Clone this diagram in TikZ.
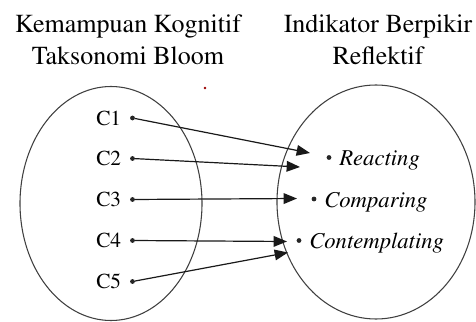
\documentclass[tikz,border=0pt]{standalone}
\usepackage[T1]{fontenc}
\renewcommand{\rmdefault}{ptm}
\usepackage{xcolor}
\usetikzlibrary{positioning,arrows.meta}

\begin{document}
\begin{tikzpicture}[x=0.75pt, y=0.75pt,
    title/.style={font=\fontsize{19.5}{24}\selectfont, align=center, inner sep=0pt},
    lbl/.style={font=\fontsize{16}{18}\selectfont, inner sep=0pt},
    item/.style={font=\fontsize{17}{20}\selectfont\itshape, inner sep=0pt, yshift=-2pt},
    dot/.style={circle, fill=black!85, inner sep=0pt, minimum size=3.6pt},
    arr/.style={-{Triangle[length=10pt, width=8pt]}, line width=0.9pt, black!90}]
        \useasboundingbox (0,0) rectangle (476,322);

        % Titles
        \node[title] (tleft) at (128,282) {Kemampuan Kognitif\\Taksonomi Bloom};
        \node[title] (tright) at (378,282) {Indikator Berpikir\\Reflektif};
        \fill[red!60!black] (205,234) circle (1.4);

        % Sets
        \draw[line width=0.8pt, black!75] (111,118.5) ellipse [x radius=91, y radius=117];
        \draw[line width=0.8pt, black!75] (376,120) ellipse [x radius=99, y radius=117];

        % Left items
        \node[dot] (c1) at (132.5,204) {};
        \node[dot] (c2) at (132.5,163.5) {};
        \node[dot] (c3) at (132.5,122.5) {};
        \node[dot] (c4) at (132.5,81.5) {};
        \node[dot] (c5) at (132.5,40.5) {};
        \node[lbl, left=6.3pt of c1] (l1) {C1};
        \node[lbl, left=6.3pt of c2] (l2) {C2};
        \node[lbl, left=6.3pt of c3] (l3) {C3};
        \node[lbl, left=6.3pt of c4] (l4) {C4};
        \node[lbl, left=6.3pt of c5] (l5) {C5};

        % Right items
        \node[dot] (r1) at (329,164.5) {};
        \node[dot] (r2) at (314,123) {};
        \node[dot] (r3) at (299,81.5) {};
        \node[item, right=5.5pt of r1] (i1) {Reacting};
        \node[item, right=5.5pt of r2] (i2) {Comparing};
        \node[item, right=5.5pt of r3] (i3) {Contemplating};

        % Arrows
        \coordinate (t1) at (310,169);
        \coordinate (t2) at (300,155);
        \coordinate (t3) at (297,123.5);
        \coordinate (t4) at (287,80.5);
        \coordinate (t5) at (288,69.5);
        \draw[arr] (c1) -- (t1);
        \draw[arr] (c2) -- (t2);
        \draw[arr] (c3) -- (t3);
        \draw[arr] (c4) -- (t4);
        \draw[arr] (c5) -- (t5);
    \end{tikzpicture}
\end{document}
